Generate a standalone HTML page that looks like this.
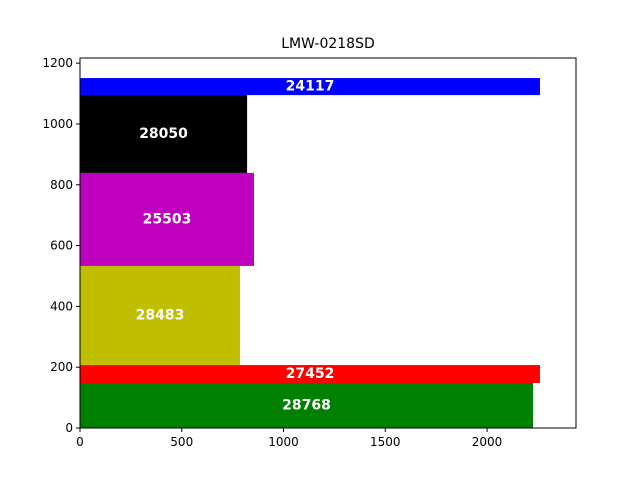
<!DOCTYPE html>
<html><head><meta charset="utf-8"><style>body{margin:0;background:#fff}svg{display:block;font-family:"DejaVu Sans","Liberation Sans",sans-serif}</style></head>
<body>
<svg id="c" width="640" height="480"></svg>
<script>
const labels=["28768","27452","28483","25503","28050","24117"];
const bottoms=[0,148,207,533,839,1095];
const heights=[148,59,326,306,256,56];
const widths=[2226,2260,786,855,821,2260];
const colors=["#008000","#ff0000","#bfbf00","#bf00bf","#000000","#0000ff"];
const xTicks=[0,500,1000,1500,2000];
const yTicks=[0,200,400,600,800,1000,1200];
const L=80,R=576,T=58,B=428,XMAX=2437,YMAX=1217;
const xs=v=>L+v/XMAX*(R-L), ys=v=>B-v/YMAX*(B-T);
const svg=document.getElementById('c');const NS="http://www.w3.org/2000/svg";
function mk(t,a,p){const e=document.createElementNS(NS,t);for(const k in a)e.setAttribute(k,a[k]);(p||svg).appendChild(e);return e;}
for(let i=0;i<labels.length;i++){
 const r=mk('rect',{x:xs(0),y:ys(bottoms[i]+heights[i]),width:xs(widths[i])-xs(0),height:ys(bottoms[i])-ys(bottoms[i]+heights[i]),fill:colors[i]});
 
 
 const t=mk('text',{x:xs(widths[i]/2),y:ys(bottoms[i]+heights[i]/2)+4,'text-anchor':'middle','font-size':'14','font-weight':'bold',fill:'#fff'});
 t.textContent=labels[i];
 
 
}
const f=mk('rect',{x:L,y:T,width:R-L,height:B-T,fill:'none',stroke:'#000','stroke-width':1});


xTicks.forEach(v=>{mk('line',{x1:xs(v),x2:xs(v),y1:B,y2:B+4,stroke:'#000'});
 const t=mk('text',{x:xs(v),y:B+18,'text-anchor':'middle','font-size':'12'});t.textContent=v;
 
 });
yTicks.forEach(v=>{mk('line',{x1:L-4,x2:L,y1:ys(v),y2:ys(v),stroke:'#000'});
 const t=mk('text',{x:L-7,y:ys(v)+4,'text-anchor':'end','font-size':'12'});t.textContent=v;
 
 });
const ti=mk('text',{x:328,y:48,'text-anchor':'middle','font-size':'14'});ti.textContent="LMW-0218SD";


</script>
</body></html>
